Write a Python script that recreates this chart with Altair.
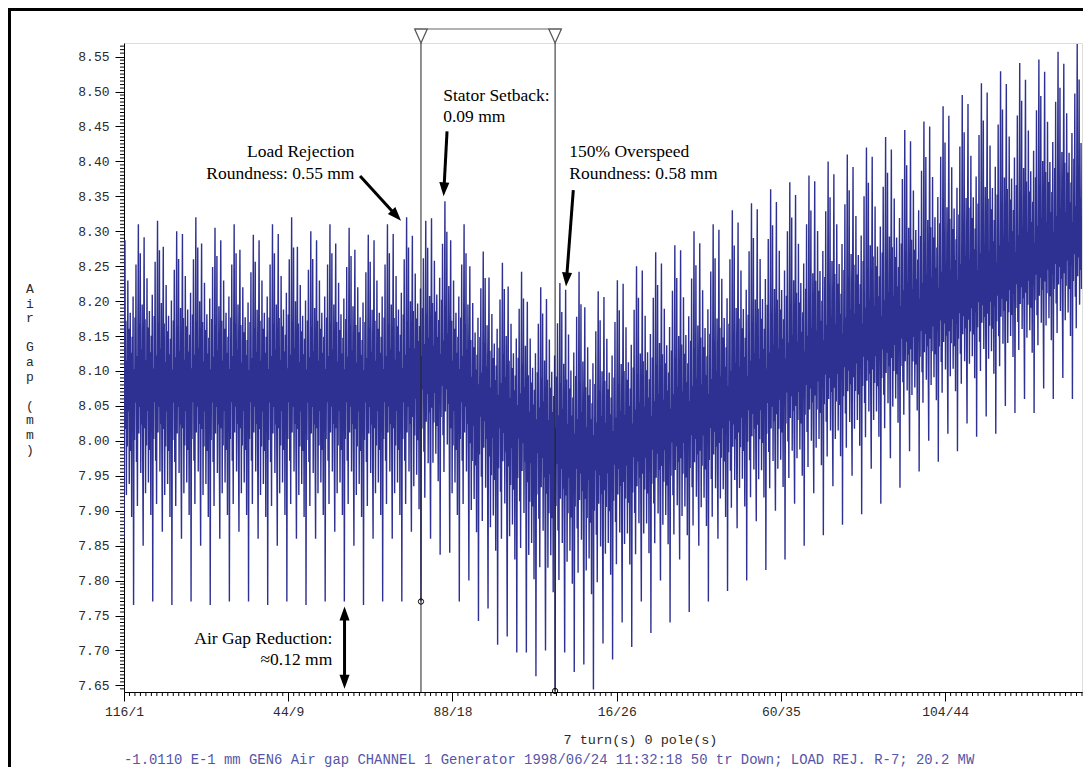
import math
import altair as alt
import pandas as pd

# ---------------- values ----------------
N_TURNS = 50
POLES_PER_TURN = 40
LOW2_POLE, TROUGH_POLE, PEAK_POLE = 0, 20, 30

# relative pole profile within one turn (+1 = tallest pole, -1 = recessed pole)
pole_shape = [
    0.00, 0.25, 0.90, -0.20, 0.40, -0.50, 0.15, -0.28, 0.65, -0.12,
    0.35, -0.45, 0.05, 0.45, -0.30, 0.20, -0.60, 0.30, -0.15, 0.55,
    -1.00, 0.10, -0.25, 0.42, -0.08, 0.75, -0.35, 0.18, -0.55, 0.32,
    1.00, -0.22, 0.38, -0.10, 0.82, -0.40, 0.22, -0.18, 0.50, -0.30,
]

# per-turn core level of the trace (mm)
turn_center = [
    8.08, 8.08, 8.08, 8.08, 8.08, 8.08, 8.08, 8.08, 8.08, 8.08,
    8.08, 8.08, 8.08, 8.08, 8.08, 8.10, 8.10, 8.08, 8.06, 8.045,
    8.03, 8.01, 7.995, 7.985, 7.985, 7.99, 8.00, 8.01, 8.02, 8.03,
    8.04, 8.05, 8.065, 8.075, 8.09, 8.10, 8.115, 8.125, 8.14, 8.15,
    8.165, 8.175, 8.19, 8.20, 8.215, 8.225, 8.24, 8.255, 8.27, 8.285,
]
# per-turn tallest spike (mm)
turn_peak = [
    8.31, 8.315, 8.30, 8.32, 8.305, 8.31, 8.295, 8.31, 8.32, 8.30,
    8.31, 8.305, 8.295, 8.31, 8.32, 8.315, 8.343, 8.31, 8.271, 8.255,
    8.242, 8.22, 8.226, 8.242, 8.214, 8.23, 8.25, 8.27, 8.28, 8.30,
    8.31, 8.33, 8.34, 8.36, 8.37, 8.38, 8.40, 8.41, 8.42, 8.435,
    8.445, 8.457, 8.479, 8.495, 8.512, 8.529, 8.541, 8.546, 8.557, 8.568,
]
# per-turn deepest dip (recessed pole, mm)
turn_trough = [
    7.765, 7.77, 7.765, 7.77, 7.765, 7.77, 7.77, 7.765, 7.77, 7.765,
    7.77, 7.77, 7.765, 7.77, 7.77, 7.77, 7.837, 7.77, 7.742, 7.708,
    7.697, 7.663, 7.642, 7.669, 7.644, 7.687, 7.705, 7.725, 7.74, 7.755,
    7.77, 7.785, 7.80, 7.815, 7.83, 7.85, 7.865, 7.88, 7.895, 7.91,
    7.933, 7.956, 7.97, 7.985, 8.006, 8.01, 8.04, 8.04, 8.06, 8.06,
]
# per-turn second low pole (mm)
turn_low2 = [
    7.86, 7.85, 7.87, 7.86, 7.85, 7.86, 7.87, 7.86, 7.85, 7.86,
    7.86, 7.87, 7.85, 7.86, 7.86, 7.87, 7.86, 7.84, 7.80, 7.76,
    7.72, 7.697, 7.70, 7.697, 7.68, 7.71, 7.74, 7.77, 7.80, 7.83,
    7.85, 7.86, 7.875, 7.885, 7.90, 7.91, 7.925, 7.935, 7.95, 7.96,
    7.975, 7.985, 8.00, 8.01, 8.025, 8.035, 8.05, 8.06, 8.075, 8.09,
]

x_major = [0, 60 / 7, 120 / 7, 180 / 7, 240 / 7, 300 / 7]
x_labels = ["116/1", "44/9", "88/18", "16/26", "60/35", "104/44"]
y_major = [7.65, 7.70, 7.75, 7.80, 7.85, 7.90, 7.95, 8.00, 8.05, 8.10,
           8.15, 8.20, 8.25, 8.30, 8.35, 8.40, 8.45, 8.50, 8.55]

cursor_turn = [15.5, 22.5]
cursor_gap = [7.77, 7.642]

ann_right_text = ["Load Rejection", "Roundness: 0.55 mm", "Air Gap Reduction:", "\u22480.12 mm"]
ann_right_x = [12.03, 12.03, 10.87, 10.87]
ann_right_y = [8.413, 8.382, 7.716, 7.687]
ann_left_text = ["Stator Setback:", "0.09 mm", "150% Overspeed", "Roundness: 0.58 mm"]
ann_left_x = [16.66, 16.66, 23.24, 23.24]
ann_left_y = [8.494, 8.463, 8.413, 8.382]

arrow_x0 = [12.32, 16.86, 23.45, 11.51]
arrow_y0 = [8.379, 8.443, 8.359, 7.763]
arrow_x1 = [14.46, 16.68, 23.07, 11.51]
arrow_y1 = [8.315, 8.350, 8.221, 7.645]
arrow_double = [False, False, False, True]

y_title_chars = ["A", "i", "r", "", "G", "a", "p", "", "(", "m", "m", ")"]
x_title = "7 turn(s) 0 pole(s)"
caption = ("-1.0110 E-1 mm GEN6 Air gap CHANNEL 1 Generator 1998/06/24 11:32:18 "
           "50 tr Down; LOAD REJ. R-7; 20.2 MW")

# ---------------- layout ----------------
W, H = 958, 649
XMIN, XMAX = 0, 50
YMIN, YMAX = 7.6405, 8.5695
xs = alt.Scale(domain=[XMIN, XMAX], nice=False, zero=False)
ys = alt.Scale(domain=[YMIN, YMAX], nice=False, zero=False)
TITLE_TOP, TITLE_STEP, TITLE_X = 246, 14.6, -94


def to_px(t, v):
    return (t - XMIN) / (XMAX - XMIN) * W, (YMAX - v) / (YMAX - YMIN) * H


def to_data(px, py):
    return XMIN + px / W * (XMAX - XMIN), YMAX - py / H * (YMAX - YMIN)


# ---------------- signal table ----------------
sx, sy = [], []
for t in range(N_TURNS):
    c, pk, tr, l2 = turn_center[t], turn_peak[t], turn_trough[t], turn_low2[t]
    for p, d in enumerate(pole_shape):
        if p == LOW2_POLE:
            v = l2
        elif d >= 0:
            v = c + d * (pk - c)
        else:
            v = c + d * (c - tr)
        sx.append(t + p / POLES_PER_TURN)
        sy.append(round(v, 4))
sig = pd.DataFrame({"turn": sx, "gap": sy})

# ---------------- arrows ----------------
HEAD_BACK = 9
shafts, heads = [], []
for x0, y0, x1, y1, dbl in zip(arrow_x0, arrow_y0, arrow_x1, arrow_y1, arrow_double):
    p0 = to_px(x0, y0)
    p1 = to_px(x1, y1)
    dx, dy = p1[0] - p0[0], p1[1] - p0[1]
    L = math.hypot(dx, dy)
    ux, uy = dx / L, dy / L
    e1 = to_data(p1[0] - ux * HEAD_BACK, p1[1] - uy * HEAD_BACK)
    s0 = to_data(p0[0] + ux * HEAD_BACK, p0[1] + uy * HEAD_BACK) if dbl else (x0, y0)
    shafts.append({"x0": s0[0], "y0": s0[1], "x1": e1[0], "y1": e1[1]})
    ang = math.degrees(math.atan2(dx, -dy)) % 360
    heads.append({"x": x1, "y": y1, "a": ang})
    if dbl:
        heads.append({"x": x0, "y": y0, "a": (ang + 180) % 360})
shaft_df = pd.DataFrame(shafts)
head_df = pd.DataFrame(heads)

x_minor = [k * 2 / 7 for k in range(0, 176) if k % 30 != 0]
y_minor = [v / 1000 for v in range(7645, 8570, 5) if v % 50 != 0]

label_expr = "[" + ",".join("'%s'" % s for s in x_labels) + "][round(datum.value*7/60)]"

x_axis = alt.Axis(
    values=x_major, labelExpr=label_expr, tickSize=9, tickColor="black",
    domainColor="black", domainWidth=1, labelFont="Liberation Mono", labelFontSize=13,
    labelColor="#2a2a2a", labelPadding=4, labelFlush=False, labelOverlap=False,
    grid=False, title=x_title, titleFont="Liberation Mono", titleFontSize=13.5,
    titleFontWeight="normal", titleColor="#2a2a2a", titleX=516, titleY=47,
    titleBaseline="middle", titleAlign="center",
)
y_axis = alt.Axis(
    values=y_major, format=".2f", tickSize=9, tickColor="black", domainColor="black",
    domainWidth=1, labelFont="Liberation Mono", labelFontSize=13, labelColor="#2a2a2a",
    labelPadding=6, labelFlush=False, labelOverlap=False, grid=False, title=None,
)


def X(field):
    return alt.X(field, scale=xs, axis=x_axis)


def Y(field):
    return alt.Y(field, scale=ys, axis=y_axis)


one = pd.DataFrame({"k": [0]})

frame_left = alt.Chart(one).mark_rule(color="black", strokeWidth=3).encode(
    x=alt.value(-114.5), y=alt.value(-36), y2=alt.value(H + 80))
frame_top = alt.Chart(one).mark_rule(color="black", strokeWidth=3).encode(
    x=alt.value(-116), x2=alt.value(W + 10), y=alt.value(-33.5))

line = alt.Chart(sig).mark_line(color="#2e3192", strokeWidth=1.4, clip=True,
                                strokeJoin="bevel").encode(
    x=X("turn:Q"), y=Y("gap:Q"))

minx = alt.Chart(pd.DataFrame({"m": x_minor})).mark_rule(color="black", strokeWidth=1).encode(
    x=X("m:Q"), y=alt.value(H), y2=alt.value(H + 4))
miny = alt.Chart(pd.DataFrame({"m": y_minor})).mark_rule(color="black", strokeWidth=1).encode(
    y=Y("m:Q"), x=alt.value(-4), x2=alt.value(0))

cur_df = pd.DataFrame({"c": cursor_turn, "g": cursor_gap})
cursors = alt.Chart(cur_df).mark_rule(color="#222222", strokeWidth=1).encode(x=X("c:Q"))
conn = alt.Chart(pd.DataFrame({"c0": [cursor_turn[0]], "c1": [cursor_turn[1]]})).mark_rule(
    color="#666666", strokeWidth=1.2, xOffset=-6.3, x2Offset=6.3).encode(
    x=X("c0:Q"), x2="c1:Q", y=alt.value(-14))
tris = alt.Chart(cur_df).mark_point(shape="M-0.9,-1L0.9,-1L0,1Z", size=196, filled=False,
                                    color="#555555", strokeWidth=1.2, opacity=1).encode(
    x=X("c:Q"), y=alt.value(-7))
circles = alt.Chart(cur_df).mark_point(shape="circle", size=28, filled=False, color="black",
                                       strokeWidth=1, opacity=1).encode(
    x=X("c:Q"), y=Y("g:Q"))

shaft = alt.Chart(shaft_df).mark_rule(color="black", strokeWidth=3).encode(
    x=X("x0:Q"), y=Y("y0:Q"), x2="x1:Q", y2="y1:Q")
head = alt.Chart(head_df).mark_point(shape="M0,0L0.72,2L-0.72,2Z", size=196, filled=True,
                                     color="black", opacity=1, strokeWidth=0).encode(
    x=X("x:Q"), y=Y("y:Q"), angle=alt.Angle("a:Q", scale=None))

txt_r = alt.Chart(pd.DataFrame({"s": ann_right_text, "x": ann_right_x, "y": ann_right_y})).mark_text(
    font="Liberation Serif", fontSize=17.5, color="black", align="right", baseline="middle").encode(
    x=X("x:Q"), y=Y("y:Q"), text="s:N")
txt_l = alt.Chart(pd.DataFrame({"s": ann_left_text, "x": ann_left_x, "y": ann_left_y})).mark_text(
    font="Liberation Serif", fontSize=17.5, color="black", align="left", baseline="middle").encode(
    x=X("x:Q"), y=Y("y:Q"), text="s:N")

ytitle_df = pd.DataFrame({
    "s": y_title_chars,
    "py": [TITLE_TOP + i * TITLE_STEP for i in range(len(y_title_chars))],
})
ytitle = alt.Chart(ytitle_df).mark_text(
    font="Liberation Mono", fontSize=13, color="#2a2a2a", align="center", baseline="middle").encode(
    x=alt.value(TITLE_X), y=alt.Y("py:Q", scale=None, axis=None), text="s:N")

cap = alt.Chart(pd.DataFrame({"s": [caption]})).mark_text(
    font="Liberation Mono", fontSize=13.9, color="#5656a8", align="left", baseline="middle").encode(
    x=alt.value(0), y=alt.value(716.5), text="s:N")

chart = alt.layer(
    frame_left, frame_top, line, minx, miny, cursors, conn, tris, circles,
    shaft, head, txt_r, txt_l, ytitle, cap,
).properties(
    width=W, height=H,
    padding={"left": 116, "top": 35, "right": 1, "bottom": 75},
    autosize=alt.AutoSizeParams(type="none"),
).configure_view(
    stroke="#808080", strokeWidth=1.5
).configure(
    background="white", font="Liberation Mono"
)

chart.save("out.html", embed_options={"renderer": "svg", "actions": False})
